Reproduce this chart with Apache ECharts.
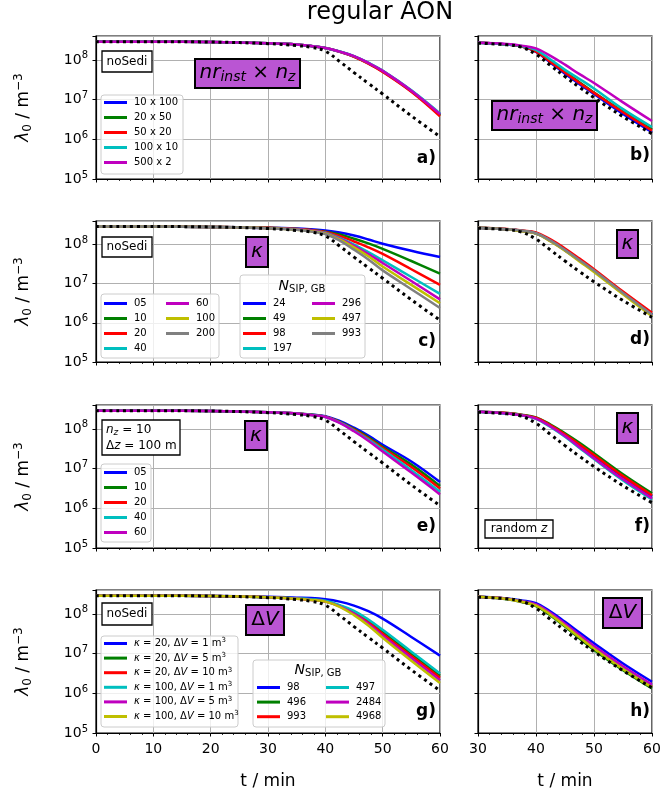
<!DOCTYPE html>
<html><head><meta charset="utf-8">
<script src="https://cdn.jsdelivr.net/npm/echarts@6/dist/echarts.min.js"></script>
<style>html,body{margin:0;padding:0;background:#fff}#c{width:665px;height:799px}</style>
</head><body><div id="c"></div>
<script>
const FONT = 'DejaVu Sans';
const COL = {b:'#0000ff', g:'#008000', r:'#ff0000', c:'#00bfbf', m:'#bf00bf', y:'#bfbf00', k:'#808080'};

// time grids (min)
const T_LEFT  = [0,10,20,30,35,37.5,40,42.5,45,47.5,50,55,60];
const T_RIGHT = [30,35,37.5,40,42.5,45,47.5,50,55,60];

// dotted reference curves
const REF_LEFT  = [2.88e8,2.88e8,2.82e8,2.57e8,2.29e8,2.09e8,1.66e8,9.12e7,4.79e7,2.57e7,1.38e7,3.89e6,1.17e6];
const REF_RIGHT = [2.63e8,2.40e8,2.09e8,1.38e8,7.24e7,3.80e7,2.04e7,1.12e7,3.72e6,1.38e6];

// legend labels
const LAB_A = ['10 x 100','20 x 50','50 x 20','100 x 10','500 x 2'];
const LAB_C = ['05','10','20','40','60','100','200'];
const NSIP_C = ['24','49','98','197','296','497','993'];
const LAB_E = ['05','10','20','40','60'];
const LAB_G = ['{i|κ} = 20, Δ{i|V} = 1 m{s|3}','{i|κ} = 20, Δ{i|V} = 5 m{s|3}','{i|κ} = 20, Δ{i|V} = 10 m{s|3}',
               '{i|κ} = 100, Δ{i|V} = 1 m{s|3}','{i|κ} = 100, Δ{i|V} = 5 m{s|3}','{i|κ} = 100, Δ{i|V} = 10 m{s|3}'];
const NSIP_G = ['98','496','993','497','2484','4968'];

// panel a (T_LEFT)
const A_10x100 = [2.88e8,2.88e8,2.82e8,2.63e8,2.45e8,2.24e8,2.00e8,1.62e8,1.23e8,8.32e7,5.25e7,1.66e7,4.17e6];
const A_20x50  = [2.88e8,2.88e8,2.82e8,2.63e8,2.45e8,2.24e8,2.00e8,1.62e8,1.22e8,8.20e7,5.13e7,1.62e7,4.00e6];
const A_50x20  = [2.88e8,2.88e8,2.82e8,2.63e8,2.45e8,2.24e8,1.99e8,1.60e8,1.20e8,8.10e7,5.00e7,1.58e7,3.80e6];
const A_100x10 = [2.88e8,2.88e8,2.82e8,2.63e8,2.45e8,2.24e8,2.00e8,1.63e8,1.25e8,8.50e7,5.40e7,1.72e7,4.50e6];
const A_500x2  = [2.88e8,2.88e8,2.82e8,2.63e8,2.45e8,2.24e8,2.00e8,1.62e8,1.24e8,8.40e7,5.30e7,1.68e7,4.30e6];
// panel b (T_RIGHT)
const B_10x100 = [2.69e8,2.45e8,2.19e8,1.58e8,8.51e7,4.47e7,2.45e7,1.38e7,4.37e6,1.51e6];
const B_20x50  = [2.69e8,2.45e8,2.19e8,1.66e8,9.12e7,5.01e7,2.75e7,1.51e7,5.01e6,1.78e6];
const B_50x20  = [2.69e8,2.45e8,2.19e8,1.62e8,8.91e7,4.79e7,2.63e7,1.48e7,4.79e6,1.66e6];
const B_100x10 = [2.69e8,2.45e8,2.24e8,1.78e8,1.02e8,5.62e7,3.31e7,1.91e7,5.75e6,2.04e6];
const B_500x2  = [2.69e8,2.51e8,2.29e8,1.95e8,1.26e8,7.59e7,4.37e7,2.63e7,8.51e6,2.88e6];
// panel c (T_LEFT)
const C_05  = [2.88e8,2.88e8,2.82e8,2.69e8,2.57e8,2.45e8,2.29e8,2.04e8,1.70e8,1.35e8,1.05e8,6.92e7,4.79e7];
const C_10  = [2.88e8,2.88e8,2.82e8,2.69e8,2.51e8,2.34e8,2.14e8,1.82e8,1.41e8,1.07e8,7.76e7,3.80e7,1.82e7];
const C_20  = [2.88e8,2.88e8,2.82e8,2.69e8,2.51e8,2.34e8,2.09e8,1.66e8,1.20e8,8.51e7,5.75e7,2.34e7,9.33e6];
const C_40  = [2.88e8,2.88e8,2.82e8,2.63e8,2.45e8,2.24e8,2.00e8,1.48e8,1.00e8,6.46e7,3.98e7,1.48e7,5.50e6];
const C_60  = [2.88e8,2.88e8,2.82e8,2.63e8,2.45e8,2.24e8,1.95e8,1.41e8,9.33e7,5.75e7,3.39e7,1.17e7,3.98e6];
const C_100 = [2.88e8,2.88e8,2.82e8,2.63e8,2.40e8,2.19e8,1.91e8,1.35e8,8.51e7,5.01e7,2.75e7,9.33e6,3.16e6];
const C_200 = [2.88e8,2.88e8,2.82e8,2.63e8,2.40e8,2.14e8,1.86e8,1.26e8,7.41e7,4.17e7,2.19e7,7.24e6,2.40e6];
// panel d (T_RIGHT)
const D_05  = [2.69e8,2.45e8,2.24e8,1.95e8,1.26e8,7.24e7,3.98e7,2.14e7,5.75e6,1.62e6];
const D_10  = [2.69e8,2.45e8,2.24e8,1.95e8,1.26e8,7.24e7,4.00e7,2.16e7,5.80e6,1.64e6];
const D_20  = [2.69e8,2.51e8,2.29e8,2.04e8,1.35e8,7.94e7,4.37e7,2.34e7,6.31e6,1.82e6];
const D_40  = [2.69e8,2.45e8,2.22e8,1.93e8,1.24e8,7.10e7,3.90e7,2.10e7,5.60e6,1.58e6];
const D_60  = [2.69e8,2.45e8,2.22e8,1.93e8,1.24e8,7.10e7,3.90e7,2.10e7,5.60e6,1.58e6];
const D_100 = [2.69e8,2.45e8,2.19e8,1.91e8,1.20e8,6.92e7,3.72e7,2.00e7,5.37e6,1.48e6];
const D_200 = [2.69e8,2.45e8,2.24e8,1.95e8,1.26e8,7.30e7,4.00e7,2.16e7,5.80e6,1.60e6];
// panel e (T_LEFT)
const E_05 = [2.88e8,2.88e8,2.82e8,2.63e8,2.45e8,2.29e8,2.09e8,1.58e8,1.07e8,6.76e7,3.98e7,1.51e7,4.57e6];
const E_10 = [2.88e8,2.88e8,2.82e8,2.63e8,2.45e8,2.29e8,2.04e8,1.51e8,1.00e8,6.17e7,3.55e7,1.26e7,3.63e6];
const E_20 = [2.88e8,2.88e8,2.82e8,2.63e8,2.45e8,2.24e8,2.04e8,1.48e8,9.55e7,5.75e7,3.31e7,1.10e7,3.16e6];
const E_40 = [2.88e8,2.88e8,2.82e8,2.63e8,2.45e8,2.24e8,2.00e8,1.45e8,9.12e7,5.37e7,3.02e7,9.12e6,2.63e6];
const E_60 = [2.88e8,2.88e8,2.82e8,2.63e8,2.45e8,2.24e8,2.00e8,1.41e8,8.71e7,5.01e7,2.69e7,7.94e6,2.24e6];
// panel f (T_RIGHT)
const F_05 = [2.69e8,2.45e8,2.24e8,1.86e8,1.20e8,7.08e7,3.89e7,2.09e7,6.17e6,2.00e6];
const F_10 = [2.69e8,2.51e8,2.29e8,1.95e8,1.29e8,7.76e7,4.47e7,2.45e7,7.24e6,2.40e6];
const F_20 = [2.69e8,2.51e8,2.24e8,1.91e8,1.23e8,7.24e7,4.07e7,2.19e7,6.46e6,2.14e6];
const F_40 = [2.69e8,2.45e8,2.19e8,1.78e8,1.12e8,6.31e7,3.31e7,1.74e7,5.01e6,1.66e6];
const F_60 = [2.69e8,2.45e8,2.19e8,1.82e8,1.15e8,6.61e7,3.47e7,1.82e7,5.37e6,1.78e6];
// panel g (T_LEFT)
const G_20_1   = [2.88e8,2.88e8,2.82e8,2.69e8,2.57e8,2.51e8,2.34e8,2.04e8,1.62e8,1.17e8,7.59e7,2.63e7,8.91e6];
const G_20_5   = [2.88e8,2.88e8,2.82e8,2.63e8,2.45e8,2.29e8,2.09e8,1.62e8,1.12e8,6.61e7,3.55e7,1.00e7,2.75e6];
const G_20_10  = [2.88e8,2.88e8,2.82e8,2.63e8,2.45e8,2.29e8,2.09e8,1.58e8,1.05e8,6.03e7,3.16e7,8.71e6,2.45e6];
const G_100_1  = [2.88e8,2.88e8,2.82e8,2.63e8,2.45e8,2.34e8,2.14e8,1.66e8,1.20e8,7.24e7,3.98e7,1.12e7,3.16e6];
const G_100_5  = [2.88e8,2.88e8,2.82e8,2.63e8,2.40e8,2.24e8,2.04e8,1.55e8,1.00e8,5.62e7,2.82e7,7.76e6,2.14e6];
const G_100_10 = [2.88e8,2.88e8,2.82e8,2.63e8,2.40e8,2.24e8,2.04e8,1.51e8,9.33e7,5.13e7,2.51e7,6.61e6,1.82e6];
// panel h (T_RIGHT)
const H_20_1   = [2.69e8,2.45e8,2.19e8,1.86e8,1.15e8,6.31e7,3.39e7,1.82e7,5.62e6,1.95e6];
const H_20_5   = [2.69e8,2.34e8,2.00e8,1.58e8,9.12e7,4.79e7,2.40e7,1.23e7,3.80e6,1.32e6];
const H_20_10  = [2.69e8,2.40e8,2.04e8,1.66e8,1.00e8,5.25e7,2.69e7,1.41e7,4.37e6,1.51e6];
const H_100_1  = [2.69e8,2.40e8,2.09e8,1.70e8,1.02e8,5.50e7,2.88e7,1.51e7,4.68e6,1.62e6];
const H_100_5  = [2.69e8,2.40e8,2.09e8,1.74e8,1.05e8,5.62e7,2.95e7,1.55e7,4.79e6,1.66e6];
const H_100_10 = [2.69e8,2.38e8,2.04e8,1.62e8,9.55e7,5.01e7,2.57e7,1.32e7,4.07e6,1.41e6];

const PANELS = [
  {id:'a', left:96,  top:36,  w:344, h:143, T:T_LEFT,  ref:REF_LEFT,  colors:['b','g','r','c','m'], data:[A_10x100,A_20x50,A_50x20,A_100x10,A_500x2]},
  {id:'b', left:478, top:36,  w:174, h:143, T:T_RIGHT, ref:REF_RIGHT, colors:['b','g','r','c','m'], data:[B_10x100,B_20x50,B_50x20,B_100x10,B_500x2]},
  {id:'c', left:96,  top:221, w:344, h:141, T:T_LEFT,  ref:REF_LEFT,  colors:['b','g','r','c','m','y','k'], data:[C_05,C_10,C_20,C_40,C_60,C_100,C_200]},
  {id:'d', left:478, top:221, w:174, h:141, T:T_RIGHT, ref:REF_RIGHT, colors:['b','g','r','c','m','y','k'], data:[D_05,D_10,D_20,D_40,D_60,D_100,D_200]},
  {id:'e', left:96,  top:405, w:344, h:143, T:T_LEFT,  ref:REF_LEFT,  colors:['b','g','r','c','m'], data:[E_05,E_10,E_20,E_40,E_60]},
  {id:'f', left:478, top:405, w:174, h:143, T:T_RIGHT, ref:REF_RIGHT, colors:['b','g','r','c','m'], data:[F_05,F_10,F_20,F_40,F_60]},
  {id:'g', left:96,  top:590, w:344, h:143, T:T_LEFT,  ref:REF_LEFT,  colors:['b','g','r','c','m','y'], data:[G_20_1,G_20_5,G_20_10,G_100_1,G_100_5,G_100_10]},
  {id:'h', left:478, top:590, w:174, h:143, T:T_RIGHT, ref:REF_RIGHT, colors:['b','g','r','c','m','y'], data:[H_20_1,H_20_5,H_20_10,H_100_1,H_100_5,H_100_10]}
];

const grids = [], xAxes = [], yAxes = [], series = [];
PANELS.forEach((p, i) => {
  const isLeft = (i % 2 === 0), isBottom = (i >= 6);
  grids.push({left:p.left, top:p.top, width:p.w, height:p.h, show:true, borderColor:'#000', borderWidth:1.2, backgroundColor:'transparent'});
  xAxes.push({
    gridIndex:i, type:'value', min:isLeft?0:30, max:60, interval:10,
    axisLine:{show:true, onZero:false, lineStyle:{color:'#000', width:1.2}},
    axisTick:{show:true, length:3.5, lineStyle:{color:'#000', width:1}},
    minorTick:{show:true, splitNumber:5, length:2, lineStyle:{color:'#000', width:0.8}},
    splitLine:{show:true, lineStyle:{color:'#b0b0b0', width:1}},
    axisLabel:{show:isBottom, fontSize:14, fontFamily:FONT, color:'#000', margin:9},
    name:isBottom?'t / min':'', nameLocation:'middle', nameGap:40,
    nameTextStyle:{fontSize:17, fontFamily:FONT, color:'#000'}
  });
  yAxes.push({
    gridIndex:i, type:'log', logBase:10, min:1e5, max:4e8,
    axisLine:{show:true, lineStyle:{color:'#000', width:1.2}},
    axisTick:{show:true, length:3.5, lineStyle:{color:'#000', width:1}},
    minorTick:{show:false},
    splitLine:{show:true, lineStyle:{color:'#b0b0b0', width:1}},
    axisLabel:{show:isLeft, margin:8, color:'#000', fontFamily:FONT,
      formatter: v => { const e = Math.log10(v); const r = Math.round(e); return Math.abs(e - r) > 1e-6 ? '' : '{b|10}{s|' + r + '}'; },
      rich:{b:{fontSize:14, fontFamily:FONT, color:'#000'}, s:{fontSize:10, fontFamily:FONT, color:'#000', padding:[0,0,8,0]}}},
    name:isLeft?'{i|λ}{s|0} / m{p|−3}':'', nameLocation:'middle', nameGap:62, nameRotate:90,
    nameTextStyle:{fontSize:17, fontFamily:FONT, color:'#000',
      rich:{i:{fontSize:17, fontStyle:'italic', fontFamily:FONT}, s:{fontSize:12, fontFamily:FONT, padding:[8,0,0,0]}, p:{fontSize:12, fontFamily:FONT, padding:[0,0,9,0]}}}
  });
  p.data.forEach((vals, k) => {
    const color = COL[p.colors[k]];
    series.push({
      type:'line', name:p.id + '|' + k, xAxisIndex:i, yAxisIndex:i,
      data:p.T.map((t, j) => [t, vals[j]]),
      smooth:0.4, showSymbol:false, symbol:'none', silent:true,
      lineStyle:{width:2.5, color:color}, itemStyle:{color:color}, z:2
    });
  });
  series.push({
    type:'line', name:p.id + '|ref', xAxisIndex:i, yAxisIndex:i,
    data:p.T.map((t, j) => [t, p.ref[j]]),
    smooth:0.4, showSymbol:false, symbol:'none', silent:true,
    lineStyle:{width:3, color:'#000', type:[3, 3.8]}, itemStyle:{color:'#000'}, z:3
  });
});

// legends
const legText = {fontFamily:FONT, fontSize:10, color:'#000', lineHeight:13, padding:[0,0,0,2],
  rich:{i:{fontStyle:'italic', fontSize:10, fontFamily:FONT, lineHeight:13}, s:{fontSize:7, fontFamily:FONT, padding:[0,0,6,0]}}};
function legend(names, left, top, fmt, gap) {
  return {orient:'vertical', left:left, top:top, data:names, icon:'rect', itemWidth:23, itemHeight:3,
    itemGap:gap == null ? 2 : gap, padding:0, selectedMode:false, formatter:fmt, textStyle:legText, z:6};
}
const rng = (id, a, b) => { const r = []; for (let k = a; k < b; k++) r.push(id + '|' + k); return r; };
const lab = arr => (n => arr[+n.split('|')[1]]);
const legends = [
  legend(rng('a',0,5), 104, 96, lab(LAB_A)),
  legend(rng('c',0,4), 104, 297, lab(LAB_C)),
  legend(rng('c',4,7), 166, 297, lab(LAB_C)),
  legend(rng('c',0,4), 243, 297, lab(NSIP_C)),
  legend(rng('c',4,7), 312, 297, lab(NSIP_C)),
  legend(rng('e',0,5), 104, 466, lab(LAB_E)),
  legend(rng('g',0,6), 104, 637, lab(LAB_G), 1.6),
  legend(rng('g',0,3), 257, 681, lab(NSIP_G), 1.6),
  legend(rng('g',3,6), 326, 681, lab(NSIP_G), 1.6)
];

// annotations
function rect(x1, y1, x2, y2, fill, stroke, lw, r, z) {
  return {type:'rect', silent:true, z:z, shape:{x:x1, y:y1, width:x2-x1, height:y2-y1, r:r||0},
    style:{fill:fill, stroke:stroke, lineWidth:lw}};
}
function text(x, y, t, size, opt) {
  opt = opt || {};
  return {type:'text', silent:true, z:12, x:x, y:y,
    style:Object.assign({text:t, fontSize:size, fontFamily:FONT, fill:'#000',
      align:opt.align||'center', verticalAlign:'middle', textAlign:opt.align||'center', textVerticalAlign:'middle'}, opt.style||{})};
}
const legBg = 'rgba(255,255,255,0.8)';
const PURPLE = '#ba55d3';
const richMath = {
  i:{fontStyle:'italic', fontSize:20, fontFamily:FONT},
  is:{fontStyle:'italic', fontSize:14, fontFamily:FONT, padding:[9,0,0,0]},
  n:{fontSize:20, fontFamily:FONT}
};
const richSmall = {
  i:{fontStyle:'italic', fontSize:12, fontFamily:FONT},
  is:{fontStyle:'italic', fontSize:9, fontFamily:FONT, padding:[6,0,0,0]},
  n:{fontSize:12, fontFamily:FONT}
};
const richN = {i:{fontStyle:'italic', fontSize:14, fontFamily:FONT}, s:{fontSize:10, fontFamily:FONT, padding:[6,0,0,0]}};
const graphics = [
  // legend frames
  rect(101, 95, 183, 174, legBg, '#cccccc', 1, 3, 5),
  rect(101, 294, 219, 358, legBg, '#cccccc', 1, 3, 5),
  rect(240, 275, 365, 358, legBg, '#cccccc', 1, 3, 5),
  rect(101, 464, 151, 542, legBg, '#cccccc', 1, 3, 5),
  rect(101, 636, 238, 727, legBg, '#cccccc', 1, 3, 5),
  rect(253, 660, 385, 727, legBg, '#cccccc', 1, 3, 5),
  text(302, 286, '{i|N}{s|SIP, GB}', 14, {style:{rich:richN}}),
  text(318, 670, '{i|N}{s|SIP, GB}', 14, {style:{rich:richN}}),
  // white boxes
  rect(102, 51, 152, 72, '#fff', '#000', 1.3, 0, 10),  text(127, 61.5, 'noSedi', 12),
  rect(102, 237, 152, 257, '#fff', '#000', 1.3, 0, 10), text(127, 247, 'noSedi', 12),
  rect(102, 603, 152, 625, '#fff', '#000', 1.3, 0, 10), text(127, 614, 'noSedi', 12),
  rect(102, 420, 180, 455, '#fff', '#000', 1.3, 0, 10),
  text(106, 430, '{i|n}{is|z} = 10', 12, {align:'left', style:{rich:richSmall}}),
  text(106, 446, 'Δ{i|z} = 100 m', 12, {align:'left', style:{rich:richSmall}}),
  rect(485, 520, 553, 538, '#fff', '#000', 1.3, 0, 10),
  text(519, 529, 'random {i|z}', 12, {style:{rich:richSmall}}),
  // purple boxes
  rect(195, 59, 300, 88, PURPLE, '#000', 2, 0, 10),
  text(247.5, 73, '{i|nr}{is|inst} × {i|n}{is|z}', 20, {style:{rich:richMath}}),
  rect(492, 101, 597, 130, PURPLE, '#000', 2, 0, 10),
  text(544.5, 115, '{i|nr}{is|inst} × {i|n}{is|z}', 20, {style:{rich:richMath}}),
  rect(246, 237, 268, 267, PURPLE, '#000', 2, 0, 10), text(257, 252, '{i|κ}', 20, {style:{rich:richMath}}),
  rect(617, 230, 638, 258, PURPLE, '#000', 2, 0, 10), text(627.5, 244, '{i|κ}', 20, {style:{rich:richMath}}),
  rect(245, 421, 267, 450, PURPLE, '#000', 2, 0, 10), text(256, 435.5, '{i|κ}', 20, {style:{rich:richMath}}),
  rect(617, 413, 638, 443, PURPLE, '#000', 2, 0, 10), text(627.5, 428, '{i|κ}', 20, {style:{rich:richMath}}),
  rect(246, 605, 284, 635, PURPLE, '#000', 2, 0, 10), text(265, 620, 'Δ{i|V}', 20, {style:{rich:richMath}}),
  rect(603, 598, 642, 628, PURPLE, '#000', 2, 0, 10), text(622.5, 613, 'Δ{i|V}', 20, {style:{rich:richMath}}),
  // panel letters
  text(436, 159, 'a)', 17, {align:'right', style:{fontWeight:'bold'}}),
  text(650, 156, 'b)', 17, {align:'right', style:{fontWeight:'bold'}}),
  text(436, 342, 'c)', 17, {align:'right', style:{fontWeight:'bold'}}),
  text(650, 340, 'd)', 17, {align:'right', style:{fontWeight:'bold'}}),
  text(436, 527, 'e)', 17, {align:'right', style:{fontWeight:'bold'}}),
  text(650, 527, 'f)', 17, {align:'right', style:{fontWeight:'bold'}}),
  text(436, 712, 'g)', 17, {align:'right', style:{fontWeight:'bold'}}),
  text(650, 712, 'h)', 17, {align:'right', style:{fontWeight:'bold'}}),
  // figure title
  text(380, 13, 'regular AON', 24)
];

const chart = echarts.init(document.getElementById('c'), null, {renderer:'canvas'});
chart.setOption({
  animation:false,
  backgroundColor:'#fff',
  grid:grids, xAxis:xAxes, yAxis:yAxes, series:series, legend:legends, graphic:graphics
});
</script></body></html>
